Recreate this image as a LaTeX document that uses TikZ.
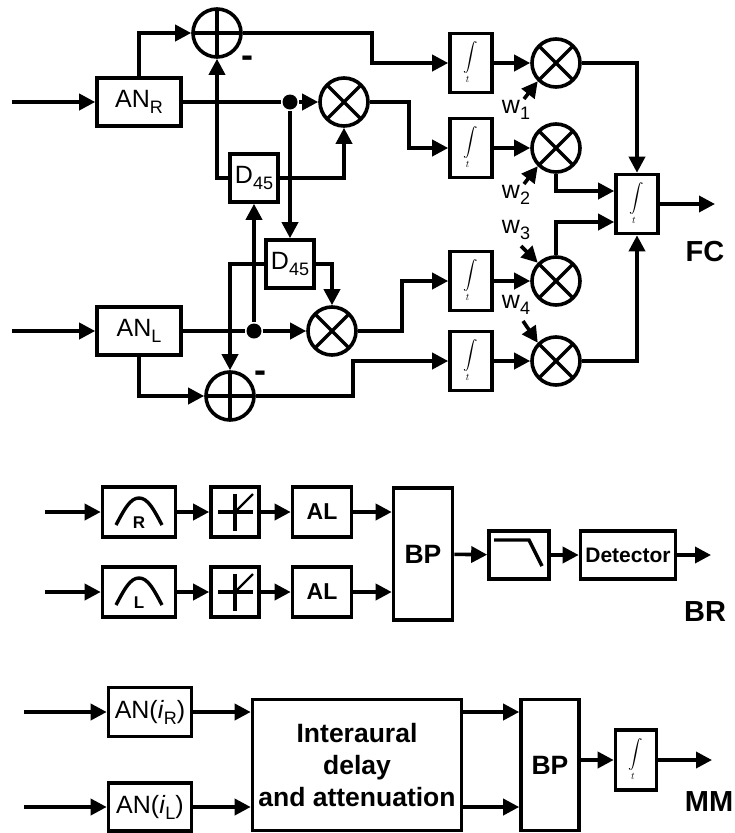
\documentclass[tikz,border=0pt]{standalone}
\usepackage{amsmath, amssymb}
\usepackage{fontspec}
\setmainfont{Liberation Sans}
\usepackage{xcolor}
\usepackage{tikz}
\usetikzlibrary{positioning, arrows.meta}

\newcommand{\subs}[1]{\raisebox{-6pt}{\fontsize{18}{18}\selectfont #1}}
\newcommand{\intlabel}{\fontsize{14.4}{17}\selectfont$\displaystyle\int\limits_{t}$}

\tikzset{
    block/.style={draw, rectangle, line width=3.6pt, inner sep=0pt, font=\fontsize{25}{28}\selectfont},
    boldblock/.style={block, font=\fontsize{26.5}{32}\selectfont\bfseries, align=center},
    intblock/.style={block, minimum width=42pt, minimum height=59pt},
    mixer/.style={draw, circle, line width=3.6pt, minimum size=48pt, inner sep=0pt,
        path picture={\draw[line width=3.4pt] (path picture bounding box.north east) -- (path picture bounding box.south west)
            (path picture bounding box.north west) -- (path picture bounding box.south east);}},
    adder/.style={draw, circle, line width=3.6pt, minimum size=48pt, inner sep=0pt,
        path picture={\draw[line width=3.4pt] (path picture bounding box.north) -- (path picture bounding box.south)
            (path picture bounding box.west) -- (path picture bounding box.east);}},
    junction/.style={circle, fill, minimum size=15pt, inner sep=0pt},
    weight/.style={font=\fontsize{25}{28}\selectfont, inner sep=0pt},
    tag/.style={font=\fontsize{29}{32}\selectfont\bfseries, inner sep=0pt},
    minus/.style={font=\fontsize{36}{36}\selectfont\bfseries, inner sep=0pt},
    bump/.style={block, minimum width=73pt, minimum height=50pt,
        path picture={\draw[line width=3.4pt] ([shift={(-23pt,-13pt)}]path picture bounding box.center)
            .. controls ++(8pt,15pt) and ++(-9pt,0pt) .. ([shift={(0pt,14pt)}]path picture bounding box.center)
            .. controls ++(9pt,0pt) and ++(-8pt,15pt) .. ([shift={(23pt,-13pt)}]path picture bounding box.center);}},
    rectifier/.style={block, minimum width=48pt, minimum height=50pt,
        path picture={\draw[line width=3.4pt] ([shift={(-17pt,0pt)}]path picture bounding box.center) -- ([shift={(18pt,0pt)}]path picture bounding box.center)
            ([shift={(0pt,18pt)}]path picture bounding box.center) -- ([shift={(0pt,-19pt)}]path picture bounding box.center);
            \draw[line width=2.4pt] (path picture bounding box.center) -- ([shift={(18pt,18pt)}]path picture bounding box.center);}},
    lowpass/.style={block, minimum width=60pt, minimum height=48pt,
        path picture={\draw[line width=3.4pt] ([shift={(-25pt,15pt)}]path picture bounding box.center) -- ([shift={(10pt,15pt)}]path picture bounding box.center)
            -- ([shift={(23pt,-11pt)}]path picture bounding box.center);}}
}

\begin{document}
\begin{tikzpicture}[x=1pt, y=-1pt, line width=3.6pt, >={Triangle[length=16pt, width=16pt]}]
    \useasboundingbox (0,0) rectangle (734,833);

    % Define the FC blocks
    \node[block, minimum width=84pt, minimum height=48pt] (anr) at (139,102) {AN\subs{R}};
    \node[block, minimum width=84pt, minimum height=48pt] (anl) at (139,331) {AN\subs{L}};
    \node[adder] (addtop) at (217,33) {};
    \node[adder] (addbot) at (230,396) {};
    \node[mixer] (mixr) at (344,102) {};
    \node[mixer] (mixl) at (332,331) {};
    \node[junction] (dotr) at (290,102) {};
    \node[junction] (dotl) at (254,331) {};
    \node[block, minimum width=48pt, minimum height=48pt] (delr) at (254,178) {D\subs{45}};
    \node[block, minimum width=48pt, minimum height=48pt] (dell) at (290,264) {D\subs{45}};
    \node[intblock] (int1) at (471,63) {\intlabel};
    \node[intblock] (int2) at (471,148) {\intlabel};
    \node[intblock] (int3) at (471,281) {\intlabel};
    \node[intblock] (int4) at (471,361) {\intlabel};
    \node[mixer] (mix1) at (556,63) {};
    \node[mixer] (mix2) at (556,148) {};
    \node[mixer] (mix3) at (556,281) {};
    \node[mixer] (mix4) at (556,361) {};
    \node[intblock] (intfc) at (637,204) {\intlabel};
    \coordinate (inr) at (12,102);
    \coordinate (inl) at (12,331);
    \coordinate (outfc) at (715,204);

    % Define the FC labels
    \node[minus] (minustop) at (247,62) {-};
    \node[minus] (minusbot) at (260,377) {-};
    \node[weight] (w1) at (516,110) {w\subs{1}};
    \node[weight] (w2) at (516,195) {w\subs{2}};
    \node[weight] (w3) at (516,230) {w\subs{3}};
    \node[weight] (w4) at (516,305) {w\subs{4}};
    \node[tag] (fc) at (705,252) {FC};
    \coordinate (w1tail) at (524,99);
    \coordinate (w2tail) at (524,184);
    \coordinate (w3tail) at (521,246);
    \coordinate (w4tail) at (523,321);

    % Define the FC connections
    \draw[->] (inr) -- (anr);
    \draw[->] (inl) -- (anl);
    \draw[->] (anr.north) |- (addtop.west);
    \draw[->] (addtop.east) -- ++(129,0) |- (int1.west);
    \draw (anr.east) -- (dotr);
    \draw[->] (dotr) -- (mixr.west);
    \draw[->] (mixr.east) -- ++(39,0) |- (int2.west);
    \draw[->] (delr.west) -| (addtop.south);
    \draw[->] (delr.east) -| (mixr.south);
    \draw[->] (dotr) -- (dell.north);
    \draw[->] (dotl) -- (delr.south);
    \draw[->] (dell.west) -| (addbot.north);
    \draw[->] (dell.east) -| (mixl.north);
    \draw (anl.east) -- (dotl);
    \draw[->] (dotl) -- (mixl.west);
    \draw[->] (mixl.east) -- ++(44,0) |- (int3.west);
    \draw[->] (anl.south) |- (addbot.west);
    \draw[->] (addbot.east) -- ++(97,0) |- (int4.west);
    \draw[->] (int1) -- (mix1);
    \draw[->] (int2) -- (mix2);
    \draw[->] (int3) -- (mix3);
    \draw[->] (int4) -- (mix4);
    \draw[->] (w1tail) -- (mix1.south west);
    \draw[->] (w2tail) -- (mix2.south west);
    \draw[->] (w3tail) -- (mix3.north west);
    \draw[->] (w4tail) -- (mix4.north west);
    \draw[->] (mix1.east) -| (intfc.north);
    \draw[->] (mix4.east) -| (intfc.south);
    \draw[->] (mix2.south) |- ([yshift=13pt]intfc.west);
    \draw[->] (mix3.north) |- ([yshift=-18pt]intfc.west);
    \draw[->] (intfc.east) -- (outfc);

    % Define the BR blocks
    \node[bump] (bandr) at (139,512) {};
    \node[bump] (bandl) at (139,592) {};
    \node[font=\fontsize{17}{20}\selectfont\bfseries, inner sep=0pt] (rmark) at (139,523) {R};
    \node[font=\fontsize{17}{20}\selectfont\bfseries, inner sep=0pt] (lmark) at (139,603) {L};
    \node[rectifier] (rectr) at (235,512) {};
    \node[rectifier] (rectl) at (235,592) {};
    \node[boldblock, font=\fontsize{23}{26}\selectfont\bfseries, minimum width=59pt, minimum height=50pt] (alr) at (322,512) {AL};
    \node[boldblock, font=\fontsize{23}{26}\selectfont\bfseries, minimum width=59pt, minimum height=50pt] (all) at (322,592) {AL};
    \node[boldblock, minimum width=59pt, minimum height=132pt] (bpbr) at (423,554) {BP};
    \node[lowpass] (lp) at (519,555) {};
    \node[boldblock, font=\fontsize{21}{26}\selectfont\bfseries, minimum width=95pt, minimum height=48pt] (det) at (628,555) {Detector};
    \node[tag] (br) at (705,612) {BR};
    \coordinate (inbr1) at (45,512);
    \coordinate (inbr2) at (45,592);
    \coordinate (outbr) at (711,555);

    % Define the BR connections
    \draw[->] (inbr1) -- (bandr);
    \draw[->] (inbr2) -- (bandl);
    \draw[->] (bandr) -- (rectr);
    \draw[->] (bandl) -- (rectl);
    \draw[->] (rectr) -- (alr);
    \draw[->] (rectl) -- (all);
    \draw[->] (alr.east) -- (alr.east -| bpbr.west);
    \draw[->] (all.east) -- (all.east -| bpbr.west);
    \draw[->] (bpbr) -- (lp);
    \draw[->] (lp) -- (det);
    \draw[->] (det) -- (outbr);

    % Define the MM blocks
    \node[block, minimum width=83pt, minimum height=49pt] (anir) at (150,712) {AN(\textit{i}\subs{R})};
    \node[block, minimum width=83pt, minimum height=48pt] (anil) at (150,807) {AN(\textit{i}\subs{L})};
    \node[boldblock, minimum width=209pt, minimum height=131pt] (iad) at (357,765) {Interaural\\delay\\and attenuation};
    \node[boldblock, minimum width=58pt, minimum height=131pt] (bpmm) at (550,765) {BP};
    \node[intblock, minimum width=41pt, minimum height=60pt] (intmm) at (636,760) {\intlabel};
    \node[tag] (mm) at (709,802) {MM};
    \coordinate (inmm1) at (24,712);
    \coordinate (inmm2) at (24,807);
    \coordinate (outmm) at (712,760);

    % Define the MM connections
    \draw[->] (inmm1) -- (anir);
    \draw[->] (inmm2) -- (anil);
    \draw[->] (anir.east) -- (anir.east -| iad.west);
    \draw[->] (anil.east) -- (anil.east -| iad.west);
    \draw[->] (anir.east -| iad.east) -- (anir.east -| bpmm.west);
    \draw[->] (anil.east -| iad.east) -- (anil.east -| bpmm.west);
    \draw[->] (intmm.west -| bpmm.east) -- (intmm.west);
    \draw[->] (intmm) -- (outmm);
\end{tikzpicture}
\end{document}
